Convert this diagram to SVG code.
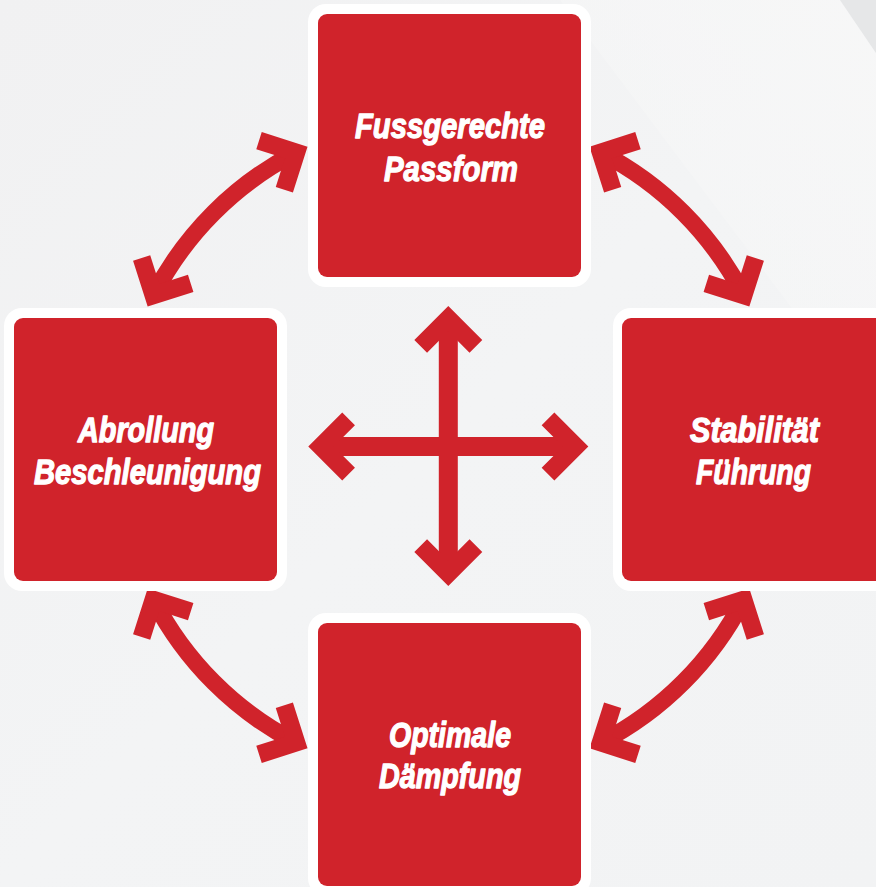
<svg xmlns="http://www.w3.org/2000/svg" width="876" height="887" viewBox="0 0 876 887">
  <style>
    .frame { fill: #ffffff; }
    .box { fill: #d0232b; }
    .label { font-family: "Liberation Sans", Arial, sans-serif; font-weight: bold; font-style: italic; font-size: 35px; fill: #ffffff; stroke: #ffffff; stroke-width: 1.3; stroke-linejoin: round; text-anchor: middle; }
    .arc { fill: none; stroke: #d0232b; stroke-width: 17; }
    .cross { fill: none; stroke: #d0232b; stroke-width: 19; }
  </style>
  <defs>
    <linearGradient id="bg" x1="0" y1="0" x2="1" y2="1">
      <stop offset="0" stop-color="#f1f1f2"/>
      <stop offset="0.5" stop-color="#f3f4f5"/>
      <stop offset="1" stop-color="#f2f3f4"/>
    </linearGradient>
    <linearGradient id="band" x1="1" y1="0" x2="0" y2="1">
      <stop offset="0" stop-color="#f8f8f8"/>
      <stop offset="1" stop-color="#f8f8f8" stop-opacity="0"/>
    </linearGradient>
    <marker id="chev" markerUnits="userSpaceOnUse" markerWidth="60" markerHeight="80" refX="0" refY="0" orient="auto-start-reverse" overflow="visible">
      <path d="M-27.6,-27.6 L0,0 L-27.6,27.6" fill="none" stroke="#d0232b" stroke-width="18" stroke-linejoin="miter" stroke-miterlimit="4"/>
    </marker>
  </defs>

  <rect x="0" y="0" width="876" height="887" fill="url(#bg)"/>
  <polygon points="560,0 840,0 876,53 876,420" fill="url(#band)" opacity="0.8"/>
  <polygon points="840,0 876,0 876,53" fill="#e6e7e8"/>

  <g id="connectors">
    <path class="arc" d="M153.5,295.2 A332,332 0 0 1 296.2,152.5" marker-start="url(#chev)" marker-end="url(#chev)"/>
    <path class="arc" d="M600.8,152.5 A332,332 0 0 1 743.5,295.2" marker-start="url(#chev)" marker-end="url(#chev)"/>
    <path class="arc" d="M743.5,599.8 A332,332 0 0 1 600.8,742.5" marker-start="url(#chev)" marker-end="url(#chev)"/>
    <path class="arc" d="M296.2,742.5 A332,332 0 0 1 153.5,599.8" marker-start="url(#chev)" marker-end="url(#chev)"/>
    <path class="cross" d="M448.3,318.7 L448.3,573.3" marker-start="url(#chev)" marker-end="url(#chev)"/>
    <path class="cross" d="M321,446.5 L575.6,446.5" marker-start="url(#chev)" marker-end="url(#chev)"/>
  </g>

  <g id="node-passform">
    <rect class="frame" x="308" y="4" width="283" height="283" rx="18"/>
    <rect class="box" x="318" y="14" width="263" height="263" rx="9"/>
    <text class="label" x="450" y="138" textLength="190" lengthAdjust="spacingAndGlyphs">Fussgerechte</text>
    <text class="label" x="451" y="181" textLength="134" lengthAdjust="spacingAndGlyphs">Passform</text>
  </g>

  <g id="node-abrollung">
    <rect class="frame" x="4" y="308" width="283" height="283" rx="18"/>
    <rect class="box" x="14" y="318" width="263" height="263" rx="9"/>
    <text class="label" x="146" y="442" textLength="136" lengthAdjust="spacingAndGlyphs">Abrollung</text>
    <text class="label" x="147.5" y="484" textLength="227" lengthAdjust="spacingAndGlyphs">Beschleunigung</text>
  </g>

  <g id="node-stabilitaet">
    <rect class="frame" x="613" y="308" width="283" height="283" rx="18"/>
    <rect class="box" x="622" y="318" width="263" height="263" rx="9"/>
    <text class="label" x="754.5" y="442" textLength="129" lengthAdjust="spacingAndGlyphs">Stabilität</text>
    <text class="label" x="753.5" y="484" textLength="115" lengthAdjust="spacingAndGlyphs">Führung</text>
  </g>

  <g id="node-daempfung">
    <rect class="frame" x="308" y="613" width="283" height="283" rx="18"/>
    <rect class="box" x="318" y="623" width="263" height="263" rx="9"/>
    <text class="label" x="450" y="747" textLength="122" lengthAdjust="spacingAndGlyphs">Optimale</text>
    <text class="label" x="450" y="788" textLength="142" lengthAdjust="spacingAndGlyphs">Dämpfung</text>
  </g>
</svg>
